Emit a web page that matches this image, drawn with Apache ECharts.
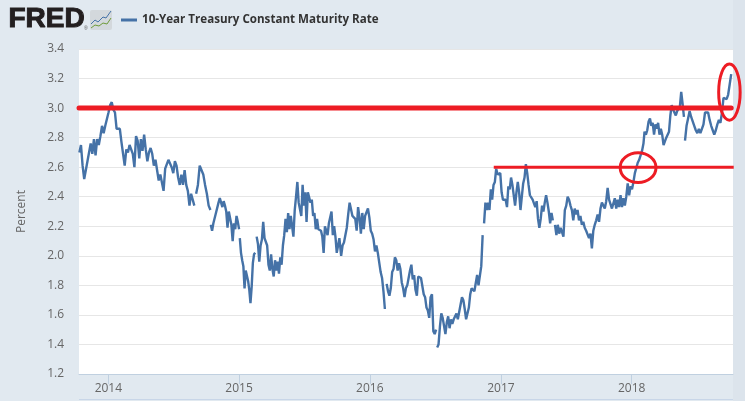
<!DOCTYPE html>
<html lang="en">
<head>
    <meta charset="UTF-8">
    <title>10-Year Treasury Constant Maturity Rate</title>
    <script src="https://cdn.jsdelivr.net/npm/echarts@6/dist/echarts.min.js"></script>
    <style>
        html, body { margin: 0; padding: 0; background: #e1e9f0; }
    </style>
</head>
<body>

<div id="wrap" style="width: 745px; height: 401px;"></div>

<script>
    var seriesName = "10-Year Treasury Constant Maturity Rate";
    var yearTicks = ["2014-01-01", "2015-01-01", "2016-01-01", "2017-01-01", "2018-01-01"];
    var percentTicks = { min: 1.2, max: 3.4, step: 0.2 };
    var dateRange = ["2013-10-11", "2018-10-11"];

    // daily rate, one array per unbroken run of the line
    var run1 = [2.70,2.75,2.61,2.52,2.53,2.64,2.65,2.76,2.69,2.79,2.68,2.79,2.75,2.81,2.88,2.83,2.88,2.89,2.97,3.02,3.04,2.99,2.97,2.86,2.87,2.86,2.77,2.69,2.61,2.72,2.70,2.75,2.75,2.69,2.60,2.81,2.78,2.66,2.79,2.71,2.82,2.72,2.64,2.70,2.73,2.69,2.61,2.65,2.66,2.51,2.55,2.56,2.44,2.59,2.60,2.65,2.66,2.60,2.56,2.64,2.61,2.53,2.48,2.55,2.48,2.58,2.48,2.44,2.34,2.42,2.41,2.34];
    var run2 = [2.42,2.48,2.61,2.62,2.55,2.48,2.42,2.34,2.31];
    var run3 = [2.21,2.17,2.22,2.22,2.29,2.30,2.36,2.39,2.36,2.33,2.37,2.34,2.30,2.19,2.30,2.31,2.21,2.10,2.22,2.18,2.27,2.23,2.18];
    var run4 = [2.12,2.02,1.97,1.93,1.78,1.90,1.90,1.83,1.77,1.68,1.79,1.95,2.01,2.02];
    var run5 = [2.13,2.08,1.96,2.07,2.11,2.23,2.12,2.12,2.07,1.94,1.90,2.01,1.91,1.86,1.97,1.90,1.96,1.88,1.99,1.94,2.07,2.14,2.25,2.16,2.29,2.18,2.27,2.20,2.13,2.31,2.40,2.50,2.36,2.35,2.27,2.48,2.34,2.43,2.23,2.43,2.44,2.36,2.38,2.27,2.29,2.18,2.25,2.18,2.19,2.17,2.13,2.02,2.20,2.19,2.14,2.22,2.21,2.30,2.14,2.20,2.13,2.02,2.07,2.12];
    var run6 = [2.12,2.00,2.07,2.09,2.08,2.19,2.28,2.36,2.35,2.27,2.26,2.25,2.17,2.33,2.26,2.15,2.29,2.18,2.27,2.26,2.32,2.26,2.17,2.15,2.11,2.03,2.07,2.02,2.01,1.89,1.85,1.76,1.64];
    var run7 = [1.81,1.76,1.73,1.78,1.89,1.91,1.99,1.97,1.90,1.95,1.91,1.82,1.78,1.72,1.78,1.80,1.81,1.90,1.94,1.84,1.87,1.77,1.73,1.86,1.87,1.85,1.86,1.74,1.72,1.65,1.63,1.58,1.72,1.74,1.49,1.47,1.50];
    var run8 = [1.38,1.40,1.52,1.61,1.58,1.59,1.47,1.55,1.59,1.51,1.57,1.54,1.57,1.56,1.61,1.57,1.56,1.67,1.72,1.70,1.64,1.57,1.56,1.65,1.74,1.78,1.79,1.76,1.75,1.87,1.80,1.79,1.93,2.14];
    var run9 = [2.22,2.36,2.31,2.36,2.31,2.45,2.38,2.48,2.50,2.59,2.55,2.56,2.56,2.43,2.38,2.39,2.38,2.33,2.47,2.45,2.53,2.48,2.47,2.34,2.43,2.50,2.43,2.31,2.40,2.49,2.53,2.62,2.56,2.48,2.41,2.41,2.38,2.39,2.33,2.37,2.25,2.19,2.25,2.34,2.30,2.36,2.41,2.36,2.30,2.22,2.29,2.24];
    var run10 = [2.21,2.14,2.21,2.15,2.19,2.16,2.13,2.31,2.34,2.40,2.38,2.34,2.31,2.24,2.32];
    var run11 = [2.28,2.31,2.24,2.27,2.21,2.23,2.19,2.17,2.16,2.12,2.15,2.05,2.17,2.21,2.24,2.28,2.23,2.32,2.36,2.36,2.32,2.37,2.46,2.38,2.38,2.32,2.33,2.39,2.32,2.38,2.33,2.41,2.33,2.39,2.34,2.40,2.49,2.41,2.47,2.45,2.50,2.56,2.55,2.63,2.65,2.66,2.71,2.76];
    var run12 = [2.84,2.82,2.85,2.91,2.93,2.88,2.90,2.82,2.89,2.86,2.90,2.82,2.86,2.82,2.75,2.74,2.80,2.82,2.84,2.95,3.02,2.99,2.97,2.95,2.98,2.97,3.01,3.11,3.03,2.94];
    var run13 = [2.78,2.88,2.93,2.98,2.94,2.93,2.88,2.85,2.83,2.86,2.83,2.84,2.89,2.97,2.98,2.97,2.92,2.88,2.85,2.82,2.85,2.89,2.92,2.90,2.97,3.07,3.08,3.06,3.09,3.16,3.23];

    // first and last date of each run, breakAfter = the line stops there
    var runStarts = ["2013-10-12","2014-09-03","2014-10-14","2015-01-03","2015-02-19","2015-10-09","2016-02-17","2016-07-07","2016-11-15","2017-06-01","2017-07-30","2018-02-06","2018-05-30"];
    var runEnds = ["2014-08-29","2014-10-13","2015-01-01","2015-02-15","2015-10-08","2016-02-12","2016-07-04","2016-11-11","2017-05-26","2017-07-26","2018-02-03","2018-05-27","2018-10-06"];
    var breakAfter = [true, true, true, true, false, true, true, true, true, false, false, true, false];
    var runs = [run1, run2, run3, run4, run5, run6, run7, run8, run9, run10, run11, run12, run13];

    // the hand drawn red marks
    var redLineLong = { from: "2013-10-11", to: "2018-10-06", value: 3.0 };
    var redLineShort = { from: "2016-12-12", to: "2018-10-13", value: 2.6 };
    var redCircleLow = { date: "2018-01-19", value: 2.597, days: 50, span: 0.100 };
    var redCircleHigh = { date: "2018-10-01", value: 3.108, days: 30, span: 0.190 };

    var DAY = 86400000;
    function toTime(s) { return Date.parse(s + "T00:00:00Z"); }

    var lineData = [];
    runs.forEach(function (values, r) {
        var t0 = toTime(runStarts[r]);
        var t1 = toTime(runEnds[r]);
        values.forEach(function (v, i) {
            lineData.push([t0 + (t1 - t0) * i / (values.length - 1), v]);
        });
        if (breakAfter[r]) lineData.push([t1 + DAY, null]);
    });

    var RED = "#ed1c24";

    function renderRedLine(params, api) {
        var first = params.dataIndex === 0;
        var d = first ? redLineLong : redLineShort;
        var a = api.coord([toTime(d.from), d.value]);
        var b = api.coord([toTime(d.to), d.value]);
        return {
            type: "line",
            shape: { x1: a[0], y1: a[1], x2: b[0], y2: b[1] },
            style: { stroke: RED, lineWidth: first ? 5 : 3, lineCap: first ? "round" : "butt" }
        };
    }

    function renderRedCircle(params, api) {
        var d = params.dataIndex === 0 ? redCircleLow : redCircleHigh;
        var c = api.coord([toTime(d.date), d.value]);
        var edge = api.coord([toTime(d.date) + d.days * DAY, d.value + d.span]);
        return {
            type: "ellipse",
            shape: { cx: c[0], cy: c[1], rx: edge[0] - c[0], ry: c[1] - edge[1] },
            style: { fill: "none", stroke: RED, lineWidth: 3 }
        };
    }

    var myChart = echarts.init(document.getElementById("wrap"));

    var option = {
        animation: false,
        backgroundColor: "#e1e9f0",
        textStyle: { fontFamily: '"Open Sans", sans-serif' },
        grid: {
            left: 79, right: 12, top: 49, bottom: 27,
            show: true, backgroundColor: "#ffffff", borderWidth: 0
        },
        legend: {
            data: [seriesName],
            left: 121, top: 14,
            padding: 0,
            itemWidth: 16, itemHeight: 3, itemGap: 5,
            icon: "rect",
            textStyle: { fontFamily: '"Open Sans", sans-serif', fontWeight: "bold", fontSize: 11.6, color: "#333333" }
        },
        xAxis: {
            type: "value",
            min: toTime(dateRange[0]),
            max: toTime(dateRange[1]),
            axisLine: { onZero: false, lineStyle: { color: "#c0d0e0", width: 1 } },
            axisTick: { length: 10, lineStyle: { color: "#c0d0e0" }, customValues: yearTicks.map(toTime) },
            splitLine: { show: false },
            axisLabel: {
                customValues: yearTicks.map(toTime),
                margin: 9,
                fontSize: 12,
                color: "#666666",
                formatter: function (v) { return String(new Date(v).getUTCFullYear()); }
            }
        },
        yAxis: {
            type: "value",
            min: percentTicks.min,
            max: percentTicks.max,
            interval: percentTicks.step,
            name: "Percent",
            nameLocation: "middle",
            nameGap: 51,
            nameTextStyle: { fontSize: 12, color: "#666666" },
            axisLine: { show: false },
            axisTick: { show: false },
            splitLine: { lineStyle: { color: "#e6e6e6", width: 1 } },
            axisLabel: {
                margin: 15,
                fontSize: 12,
                color: "#666666",
                formatter: function (v) { return v.toFixed(1); }
            }
        },
        series: [{
            name: seriesName,
            type: "line",
            data: lineData,
            showSymbol: false,
            connectNulls: false,
            lineStyle: { color: "#4572a7", width: 2.4 },
            itemStyle: { color: "#4572a7" },
            z: 3
        }, {
            type: "custom",
            data: [0, 1],
            encode: {},
            clip: false,
            silent: true,
            z: 5,
            renderItem: renderRedLine
        }, {
            type: "custom",
            data: [0, 1],
            encode: {},
            clip: false,
            silent: true,
            z: 6,
            renderItem: renderRedCircle
        }],
        graphic: [
            { type: "rect", z: -1, shape: { x: 733, y: 0, width: 12, height: 401 }, style: { fill: "#dce4ec" } },
            { type: "line", shape: { x1: 79, y1: 399.5, x2: 733, y2: 399.5 }, style: { stroke: "#c8d6e8", lineWidth: 1 } },
            { type: "text", left: 8, top: 5, style: { text: "FRED", fontFamily: '"Liberation Sans", sans-serif', fontWeight: "bold", fontSize: 28, fill: "#231f20", stroke: "#231f20", lineWidth: 1 } },
            { type: "text", left: 84, top: 26, style: { text: "®", fontFamily: '"Liberation Sans", sans-serif', fontSize: 5, fill: "#555555" } },
            { type: "rect", shape: { x: 90, y: 10, width: 22, height: 20, r: 2 }, style: { fill: "#d3d8dc" } },
            { type: "polyline", shape: { points: [[91, 24], [95, 20], [98, 22], [103, 17], [106, 18], [111, 11]] }, style: { stroke: "#4572a7", fill: "none", lineWidth: 1 } },
            { type: "polyline", shape: { points: [[91, 28], [95, 25], [99, 26], [103, 23], [107, 24], [111, 18]] }, style: { stroke: "#6f9b3a", fill: "none", lineWidth: 1 } }
        ]
    };

    myChart.setOption(option);
</script>
</body>
</html>
